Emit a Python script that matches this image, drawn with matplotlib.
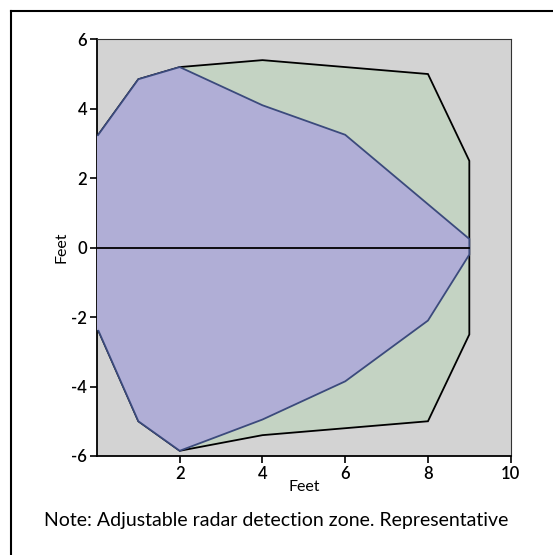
import matplotlib.pyplot as plt
from matplotlib.lines import Line2D

# Outer detection zone (green)
outer_x = [0, 1, 2, 4, 6, 8, 9, 9, 8, 6, 4, 2, 1, 0]
outer_y = [3.2, 4.85, 5.2, 5.4, 5.2, 5.0, 2.5, -2.5, -5.0, -5.2, -5.4, -5.85, -5.0, -2.3]

# Inner detection zone (purple)
inner_x = [0, 1, 2, 4, 6, 9, 9, 8, 6, 4, 2, 1, 0]
inner_y = [3.2, 4.85, 5.2, 4.1, 3.25, 0.25, -0.2, -2.1, -3.85, -4.95, -5.85, -5.0, -2.3]

plt.rcParams['font.family'] = ['Lato', 'DejaVu Sans']
plt.rcParams['axes.unicode_minus'] = False

fig = plt.figure(figsize=(5.53, 5.55), dpi=100)
ax = fig.add_axes([0.1754, 0.1784, 0.7481, 0.7508])
ax.set_facecolor('#d3d3d3')

ax.fill(outer_x, outer_y, facecolor='#c4d3c3', edgecolor='black', lw=1.3, zorder=2)
ax.fill(inner_x, inner_y, facecolor='#b0aed6', edgecolor='#3b4a7c', lw=1.3, zorder=3)
# left side has no outline
ax.plot([0, 0], [-2.3, 3.2], color='#b0aed6', lw=2, zorder=4)
ax.plot([0, 9], [0, 0], color='black', lw=1.3, zorder=5)

ax.set_xlim(0, 10)
ax.set_ylim(-6, 6)
ax.set_xticks([2, 4, 6, 8, 10])
ax.set_yticks([-6, -4, -2, 0, 2, 4, 6])
ax.tick_params(labelsize=12, width=1.2, length=5, pad=2)
for t in ax.get_xticklabels() + ax.get_yticklabels():
    t.set_fontweight('semibold')
ax.set_xlabel('Feet', fontsize=11.5, labelpad=-1)
ax.set_ylabel('Feet', fontsize=11.5, labelpad=2)
for s in ['left', 'bottom']:
    ax.spines[s].set_linewidth(1.3)
for s in ['top', 'right']:
    ax.spines[s].set_linewidth(0.8)
    ax.spines[s].set_color('#333333')

fig.text(0.5, 0.063, 'Note: Adjustable radar detection zone. Representative',
         ha='center', va='center', fontsize=14)

# figure border (left and top)
fig.add_artist(Line2D([11/553, 11/553], [0, 1-11/555], color='black', lw=1.5, transform=fig.transFigure))
fig.add_artist(Line2D([11/553, 1], [1-11/555, 1-11/555], color='black', lw=1.5, transform=fig.transFigure))

fig.savefig('out.png', dpi=100)
